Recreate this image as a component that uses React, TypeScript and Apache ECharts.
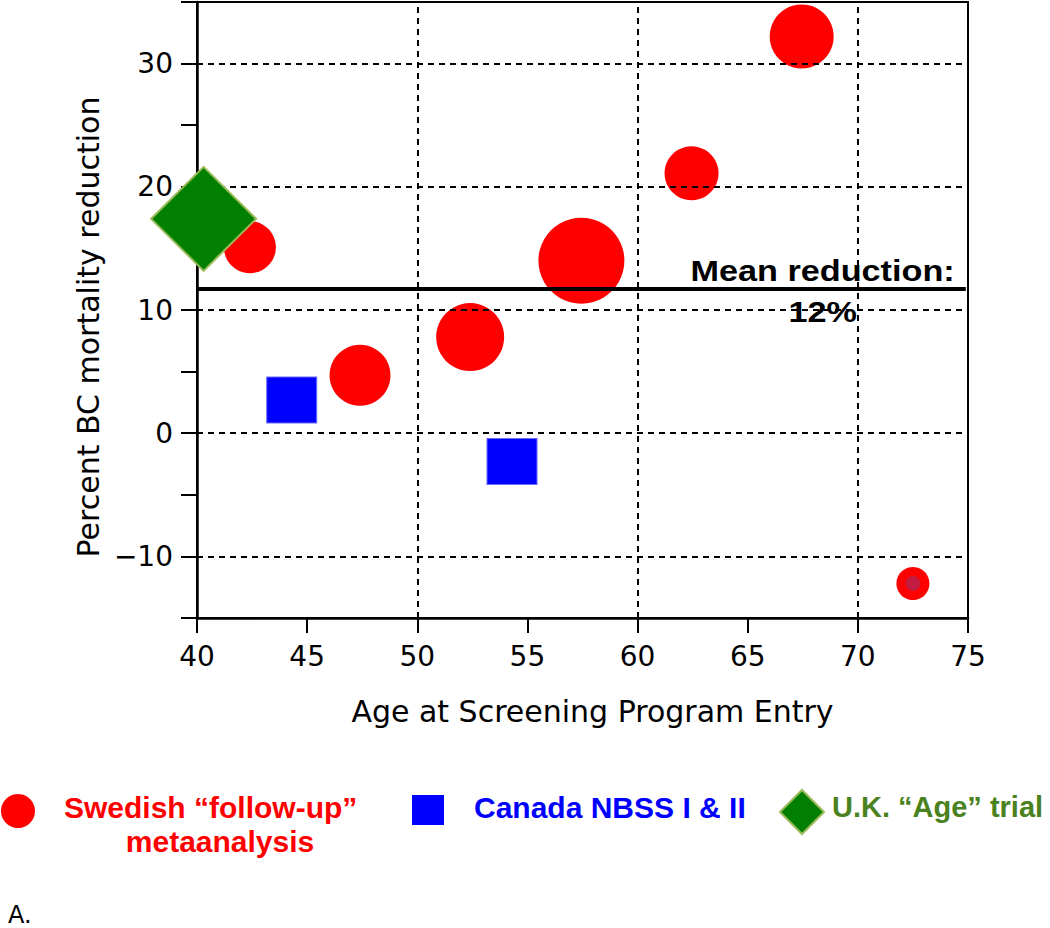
import React, { useEffect, useRef } from "react";
import * as echarts from "echarts";

// ---- data ----
const swedishX = [42.4, 47.4, 52.4, 57.45, 62.45, 67.45, 72.5];
const swedishY = [15.1, 4.7, 7.8, 14.0, 21.1, 32.2, -12.2];
const swedishWeight = [52, 61, 68, 86, 54, 64, 33]; // marker diameters

const canadaX = [44.3, 54.3];
const canadaY = [2.7, -2.3];

const ukX = [40.3];
const ukY = [17.4];

const meanReduction = 11.7;
const meanLabelTop = "Mean reduction:";
const meanLabelBottom = "12%";
const meanLabelX = 68.4;

const xGridValues = [50, 60, 70];
const yGridValues = [-10, 0, 10, 20, 30];

const xName = "Age at Screening Program Entry";
const yName = "Percent BC mortality reduction";

const legendNames = ["Swedish \u201cfollow-up\u201d", "metaanalysis", "Canada NBSS I & II", "U.K. \u201cAge\u201d trial"];
const panelLabel = "A.";

const AXIS_FONT = "DejaVu Sans";
const BOLD_FONT = "Liberation Sans";

export default function App() {
  const ref = useRef<HTMLDivElement>(null);

  useEffect(() => {
    document.body.style.margin = "0";
    if (!ref.current) return;
    const chart = echarts.init(ref.current, null, { renderer: "svg" });

    const swedishData = swedishX.map((x, i) => ({
      value: [x, swedishY[i]],
      symbolSize: swedishWeight[i],
    }));
    const canadaData = canadaX.map((x, i) => [x, canadaY[i]]);
    const ukData = ukX.map((x, i) => [x, ukY[i]]);
    const lastIdx = swedishX.length - 1;

    const gridLineStyle = { color: "#000", width: 2, type: [6, 5] as any };

    const option: any = {
      animation: false,
      backgroundColor: "#fff",
      grid: {
        left: 197,
        right: 82,
        top: 2,
        bottom: 310,
        show: true,
        borderColor: "#000",
        borderWidth: 2,
        backgroundColor: "transparent",
      },
      xAxis: {
        type: "value",
        min: 40,
        max: 75,
        interval: 5,
        name: xName,
        nameLocation: "middle",
        nameGap: 78,
        nameTextStyle: { fontFamily: AXIS_FONT, fontSize: 30, color: "#000", padding: [0, 0, 0, 20] },
        axisLine: { show: true, onZero: false, lineStyle: { color: "#000", width: 2.5 } },
        axisTick: { show: true, length: 15, lineStyle: { color: "#000", width: 2 } },
        axisLabel: { margin: 24, fontFamily: AXIS_FONT, fontSize: 28, color: "#000" },
        splitLine: { show: false },
      },
      yAxis: {
        type: "value",
        min: -15,
        max: 35,
        interval: 5,
        name: yName,
        nameLocation: "middle",
        nameGap: 80,
        nameTextStyle: { fontFamily: AXIS_FONT, fontSize: 30, color: "#000", padding: [0, 34, 0, 0] },
        axisLine: { show: true, onZero: false, lineStyle: { color: "#000", width: 2.5 } },
        axisTick: { show: true, length: 16, lineStyle: { color: "#000", width: 2 } },
        axisLabel: {
          margin: 24,
          fontFamily: AXIS_FONT,
          fontSize: 28,
          color: "#000",
          formatter: (v: number) => (v % 10 === 0 ? String(v).replace("-", "\u2212") : ""),
        },
        splitLine: { show: false },
      },
      series: [
        {
          type: "line",
          name: "grid",
          data: [],
          z: 1,
          silent: true,
          markLine: {
            silent: true,
            symbol: "none",
            label: { show: false },
            lineStyle: gridLineStyle,
            data: [
              ...xGridValues.map((v) => ({ xAxis: v })),
              ...yGridValues.map((v) => ({ yAxis: v })),
            ],
          },
        },
        {
          type: "scatter",
          name: legendNames[0],
          data: swedishData,
          symbol: "circle",
          itemStyle: { color: "#ff0000", opacity: 1 },
          z: 3,
        },
        {
          type: "scatter",
          name: "overlap",
          data: [[swedishX[lastIdx], swedishY[lastIdx]]],
          symbol: "circle",
          symbolSize: 15,
          itemStyle: { color: "#c41c40", opacity: 1 },
          z: 4,
        },
        {
          type: "scatter",
          name: legendNames[2],
          data: canadaData,
          symbol: "rect",
          symbolSize: [50, 46],
          itemStyle: { color: "#0000ff", borderColor: "#6a6aff", borderWidth: 1, opacity: 1 },
          z: 3,
        },
        {
          type: "scatter",
          name: legendNames[3],
          data: ukData,
          symbol: "diamond",
          symbolSize: [105, 104],
          itemStyle: { color: "#007f00", borderColor: "#9bbb59", borderWidth: 2, opacity: 1 },
          z: 5,
        },
        {
          type: "line",
          name: "mean",
          data: [],
          z: 6,
          markLine: {
            silent: true,
            symbol: "none",
            label: { show: false },
            lineStyle: { color: "#000", width: 4, type: "solid", opacity: 1 },
            data: [[{ coord: [40, meanReduction] }, { coord: [74.9, meanReduction] }]],
          },
        },
      ],
    };

    chart.setOption(option);

    const [mx, my] = chart.convertToPixel({ gridIndex: 0 }, [meanLabelX, meanReduction]) as number[];
    const boldText = (text: string, x: number, y: number, fill: string, size: number, align = "left", scaleX = 1) => ({
      type: "text",
      x,
      y,
      scaleX,
      z: 100,
      style: {
        text,
        fontFamily: BOLD_FONT,
        fontWeight: "bold",
        fontSize: size,
        fill,
        verticalAlign: "middle",
        align,
      },
    });

    chart.setOption({
      graphic: [
        boldText(meanLabelTop, mx, my - 18, "#000", 29, "center", 1.18),
        boldText(meanLabelBottom, mx, my + 23, "#000", 29, "center", 1.18),
        { type: "circle", shape: { cx: 18, cy: 811, r: 17 }, style: { fill: "#ff0000" } },
        boldText(legendNames[0], 64, 807, "#ff0000", 30),
        boldText(legendNames[1], 220, 841, "#ff0000", 30, "center"),
        { type: "rect", shape: { x: 412, y: 795, width: 32, height: 30 }, style: { fill: "#0000ff" } },
        boldText(legendNames[2], 474, 807, "#0000ff", 30),
        {
          type: "polygon",
          shape: { points: [[802, 790], [824, 812], [802, 834], [780, 812]] },
          style: { fill: "#007f00", stroke: "#9bbb59", lineWidth: 2 },
        },
        boldText(legendNames[3], 832, 807, "#4a8220", 29),
        {
          type: "text",
          x: 8,
          y: 915,
          style: {
            text: panelLabel,
            fontFamily: AXIS_FONT,
            fontSize: 24,
            fill: "#000",
            verticalAlign: "middle",
            align: "left",
          },
        },
      ],
    });

    return () => chart.dispose();
  }, []);

  return <div ref={ref} style={{ width: 1050, height: 928 }} />;
}
